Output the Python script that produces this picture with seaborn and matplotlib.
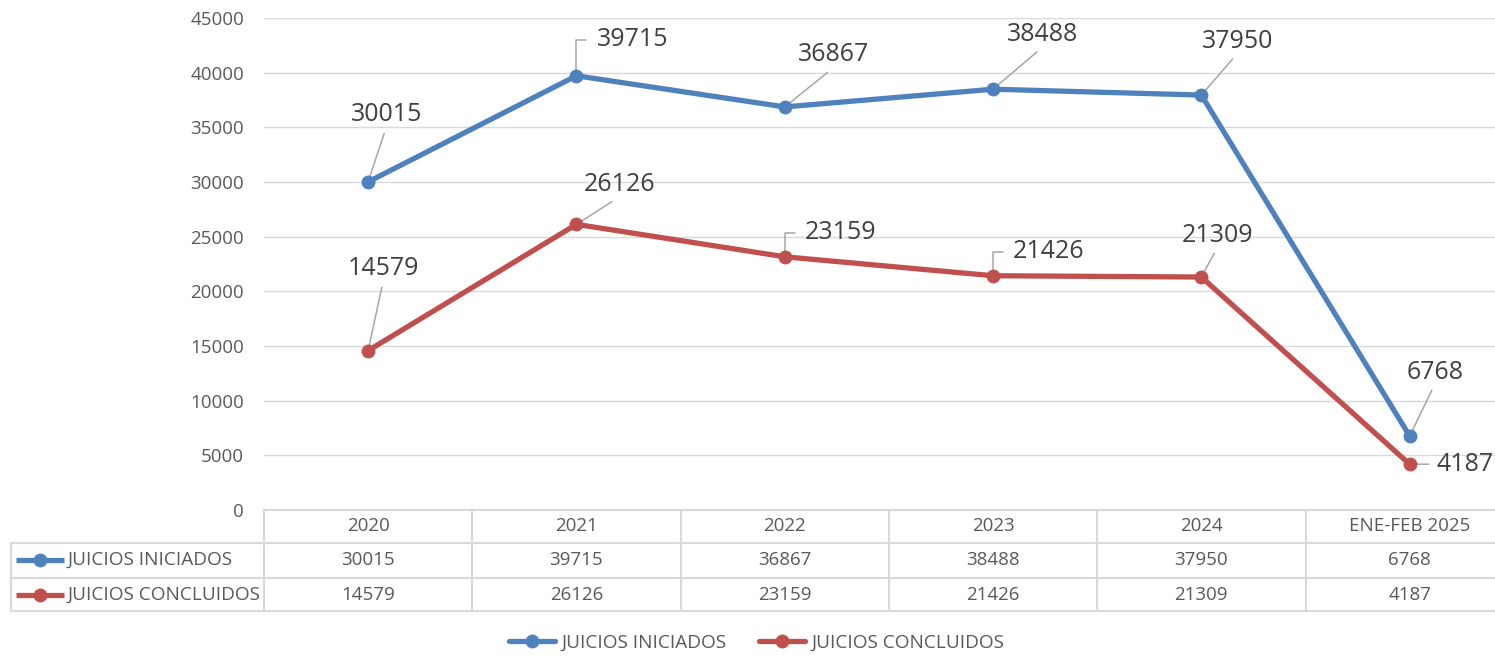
import numpy as np
import pandas as pd
import matplotlib
matplotlib.use("Agg")
import matplotlib.pyplot as plt
import matplotlib.transforms as mtransforms
from matplotlib.lines import Line2D
import seaborn as sns

categories = ["2020", "2021", "2022", "2023", "2024", "ENE-FEB 2025"]
iniciados = [30015, 39715, 36867, 38488, 37950, 6768]
concluidos = [14579, 26126, 23159, 21426, 21309, 4187]
series_names = ["JUICIOS INICIADOS", "JUICIOS CONCLUIDOS"]
yticks = [0, 5000, 10000, 15000, 20000, 25000, 30000, 35000, 40000, 45000]

BLUE = "#4f81bd"
RED = "#c0504d"
TXT = "#404040"
TXT2 = "#595959"
GRID = "#d9d9d9"

sns.set_theme(style="white")
plt.rcParams["font.family"] = ["Open Sans", "DejaVu Sans"]

W, H = 1495, 656
fig = plt.figure(figsize=(W / 100, H / 100), dpi=100)
ax_l = 264 / W
ax_b = (H - 510) / H
ax_t = (H - 18) / H
ax_w = (208.3 * 6) / W
ax = fig.add_axes([ax_l, ax_b, ax_w, ax_t - ax_b])

idx = np.arange(len(categories))
df = pd.DataFrame({
    "x": np.concatenate([idx, idx]),
    "value": iniciados + concluidos,
    "serie": [series_names[0]] * len(idx) + [series_names[1]] * len(idx),
})
sns.lineplot(data=df, x="x", y="value", hue="serie", palette=[BLUE, RED],
             marker="o", markersize=10, markeredgewidth=0, linewidth=3.8,
             legend=False, ax=ax, zorder=3)

ax.set_xlim(-0.5, len(categories) - 0.5)
ax.set_ylim(0, 45000)
ax.set_yticks(yticks)
ax.set_yticklabels([str(v) for v in yticks], color=TXT2, fontsize=13.5)
ax.tick_params(axis="y", length=0, pad=14.4)
ax.set_xticks([])
ax.set_xlabel("")
ax.set_ylabel("")
for s in ax.spines.values():
    s.set_visible(False)
ax.grid(axis="y", color=GRID, linewidth=1)
ax.grid(axis="x", visible=False)

# data labels: (dx, dy) pixel offset of the text centre, leader kind
lab_ini = [(18, 67, "d"), (56, 36, "e"), (49, 52, "d"),
           (50, 55, "d"), (36, 54, "d"), (25, 64, "d")]
lab_con = [(15, 82, "d"), (43, 40, "d"), (56, 24, "e"),
           (56, 24, "e"), (16, 42, "d"), (55, 0, "f")]
for vals, offs in ((iniciados, lab_ini), (concluidos, lab_con)):
    for i, (v, (dx, dy, kind)) in enumerate(zip(vals, offs)):
        if kind == "d":
            ap = dict(arrowstyle="-", color="#a6a6a6", lw=1.1, shrinkA=2,
                      shrinkB=0, relpos=(0.5, 0.0))
        elif kind == "e":
            ap = dict(arrowstyle="-", color="#a6a6a6", lw=1.1, shrinkA=5,
                      shrinkB=0, relpos=(0.0, 0.5),
                      connectionstyle="angle,angleA=0,angleB=90,rad=0")
        else:
            ap = dict(arrowstyle="-", color="#a6a6a6", lw=1.1, shrinkA=3,
                      shrinkB=0, relpos=(0.0, 0.5))
        ax.annotate(str(v), xy=(i, v), xytext=(dx, dy), textcoords="offset pixels",
                    ha="center", va="center", fontsize=18, color=TXT,
                    annotation_clip=False, zorder=2, arrowprops=ap)

# data table below the chart
trans = mtransforms.blended_transform_factory(ax.transData, fig.transFigure)
def fy(py):
    return (H - py) / H
x_left = -0.5 - (264 - 11) / 208.3
x_right = len(categories) - 0.5
line_kw = dict(color=GRID, linewidth=1.5, transform=trans, clip_on=False)
fig.add_artist(Line2D([-0.5, x_right], [fy(510), fy(510)], **line_kw))
for py in (543, 578, 611):
    fig.add_artist(Line2D([x_left, x_right], [fy(py), fy(py)], **line_kw))
fig.add_artist(Line2D([x_left, x_left], [fy(543), fy(611)], **line_kw))
for k in range(len(categories) + 1):
    fig.add_artist(Line2D([k - 0.5, k - 0.5], [fy(510), fy(611)], **line_kw))

tkw = dict(transform=trans, ha="center", va="center", fontsize=13.5, color=TXT2)
for i, c in enumerate(categories):
    fig.text(i, fy(526), c, **tkw)
    fig.text(i, fy(560), str(iniciados[i]), **tkw)
    fig.text(i, fy(595), str(concluidos[i]), **tkw)

px = lambda p: p / W
for row_y, col, name in ((560, BLUE, series_names[0]), (595, RED, series_names[1])):
    fig.add_artist(Line2D([px(16), px(64)], [fy(row_y), fy(row_y)], color=col,
                          linewidth=3.8, solid_capstyle="butt",
                          transform=fig.transFigure))
    fig.add_artist(Line2D([px(40)], [fy(row_y)], color=col, marker="o",
                          markersize=10, markeredgewidth=0, linestyle="none",
                          transform=fig.transFigure))
    fig.text(px(68), fy(row_y), name, ha="left", va="center", fontsize=13.7,
             color=TXT2)

handles = [Line2D([], [], color=BLUE, linewidth=3.8, marker="o", markersize=10,
                  markeredgewidth=0),
           Line2D([], [], color=RED, linewidth=3.8, marker="o", markersize=10,
                  markeredgewidth=0)]
leg = fig.legend(handles, series_names, loc="center", ncol=2,
                 bbox_to_anchor=(757 / W, fy(643)), frameon=False,
                 fontsize=13.7, handlelength=2.4, columnspacing=1.7,
                 handletextpad=0.35, labelcolor=TXT2)

fig.savefig("out.png", dpi=100, facecolor="white")
